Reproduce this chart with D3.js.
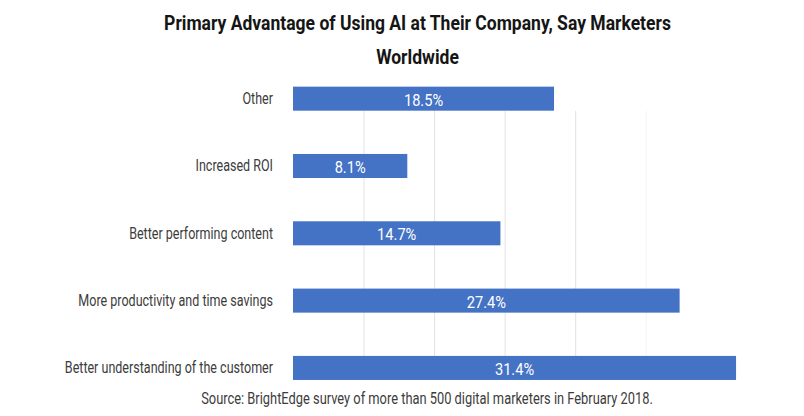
<!DOCTYPE html>
<html>
<head>
<meta charset="utf-8">
<script src="https://cdn.jsdelivr.net/npm/d3@7/dist/d3.min.js"></script>
<style>
  html, body { margin: 0; padding: 0; background: #ffffff; }
  svg { display: block; }
  text { font-family: Roboto, "Noto Sans", sans-serif; }
</style>
</head>
<body>
<svg id="chart" width="804" height="416"></svg>
<script>
const titleLines = ["Primary Advantage of Using AI at Their Company, Say Marketers", "Worldwide"];
const categories = [
  "Other",
  "Increased ROI",
  "Better performing content",
  "More productivity and time savings",
  "Better understanding of the customer"
];
const values = [18.5, 8.1, 14.7, 27.4, 31.4];
const gridTicks = [5, 10, 15, 20, 25];
const sourceText = "Source: BrightEdge survey of more than 500 digital marketers in February 2018.";

// condensed look: horizontal compression factors
const LBL_S = 0.76, SRC_S = 0.78, VAL_S = 0.86, TTL_S = 0.835;

const svg = d3.select("#chart");

const x = d3.scaleLinear().domain([0, 30]).range([293, 716.3]);
const y = d3.scaleBand().domain(categories).range([65, 401.6])
  .paddingInner(0.643).paddingOuter(0.3215);

// gridlines (between first and last bar)
const gTop = y(categories[0]) + y.bandwidth();
const gBot = y(categories[categories.length - 1]);
svg.append("g").selectAll("line").data(gridTicks).join("line")
  .attr("x1", d => x(d) + 0.5).attr("x2", d => x(d) + 0.5)
  .attr("y1", gTop).attr("y2", gBot)
  .attr("stroke", d => d === 25 ? "#f4f4f4" : "#e2e2e2")
  .attr("stroke-width", 1);

// bars
svg.append("g").selectAll("rect").data(values).join("rect")
  .attr("x", x(0))
  .attr("y", (d, i) => y(categories[i]))
  .attr("width", d => x(d) - x(0))
  .attr("height", y.bandwidth())
  .attr("fill", "#4472c4");

// value labels
svg.append("g").selectAll("text").data(values).join("text")
  .attr("transform", (d, i) => `translate(${(x(0) + x(d)) / 2},${y(categories[i]) + y.bandwidth() / 2}) scale(${VAL_S},1)`)
  .attr("dy", "0.42em")
  .attr("text-anchor", "middle")
  .attr("fill", "#ffffff")
  .attr("font-size", 17)
  .text(d => d.toFixed(1) + "%");

// category axis labels
const yAxis = d3.axisLeft(y).tickSize(0).tickPadding(20);
const ax = svg.append("g").attr("transform", `translate(${x(0)},0)`).call(yAxis);
ax.select(".domain").remove();
ax.selectAll("text")
  .attr("x", -20 / LBL_S)
  .attr("transform", `scale(${LBL_S},1)`)
  .attr("font-size", 16.5)
  .attr("fill", "#3c3c3c")
  .style("font-family", "Roboto, 'Noto Sans', sans-serif");

// title
svg.append("g").selectAll("text").data(titleLines).join("text")
  .attr("transform", (d, i) => `translate(417.5,${29.5 + i * 34}) scale(${TTL_S},1)`)
  .attr("text-anchor", "middle")
  .attr("font-size", 21)
  .attr("font-weight", "bold")
  .attr("fill", "#151515")
  .text(d => d);

// source
svg.append("text")
  .attr("transform", `translate(427,404) scale(${SRC_S},1)`)
  .attr("text-anchor", "middle")
  .attr("font-size", 16.5)
  .attr("fill", "#3c3c3c")
  .text(sourceText);
</script>
</body>
</html>
